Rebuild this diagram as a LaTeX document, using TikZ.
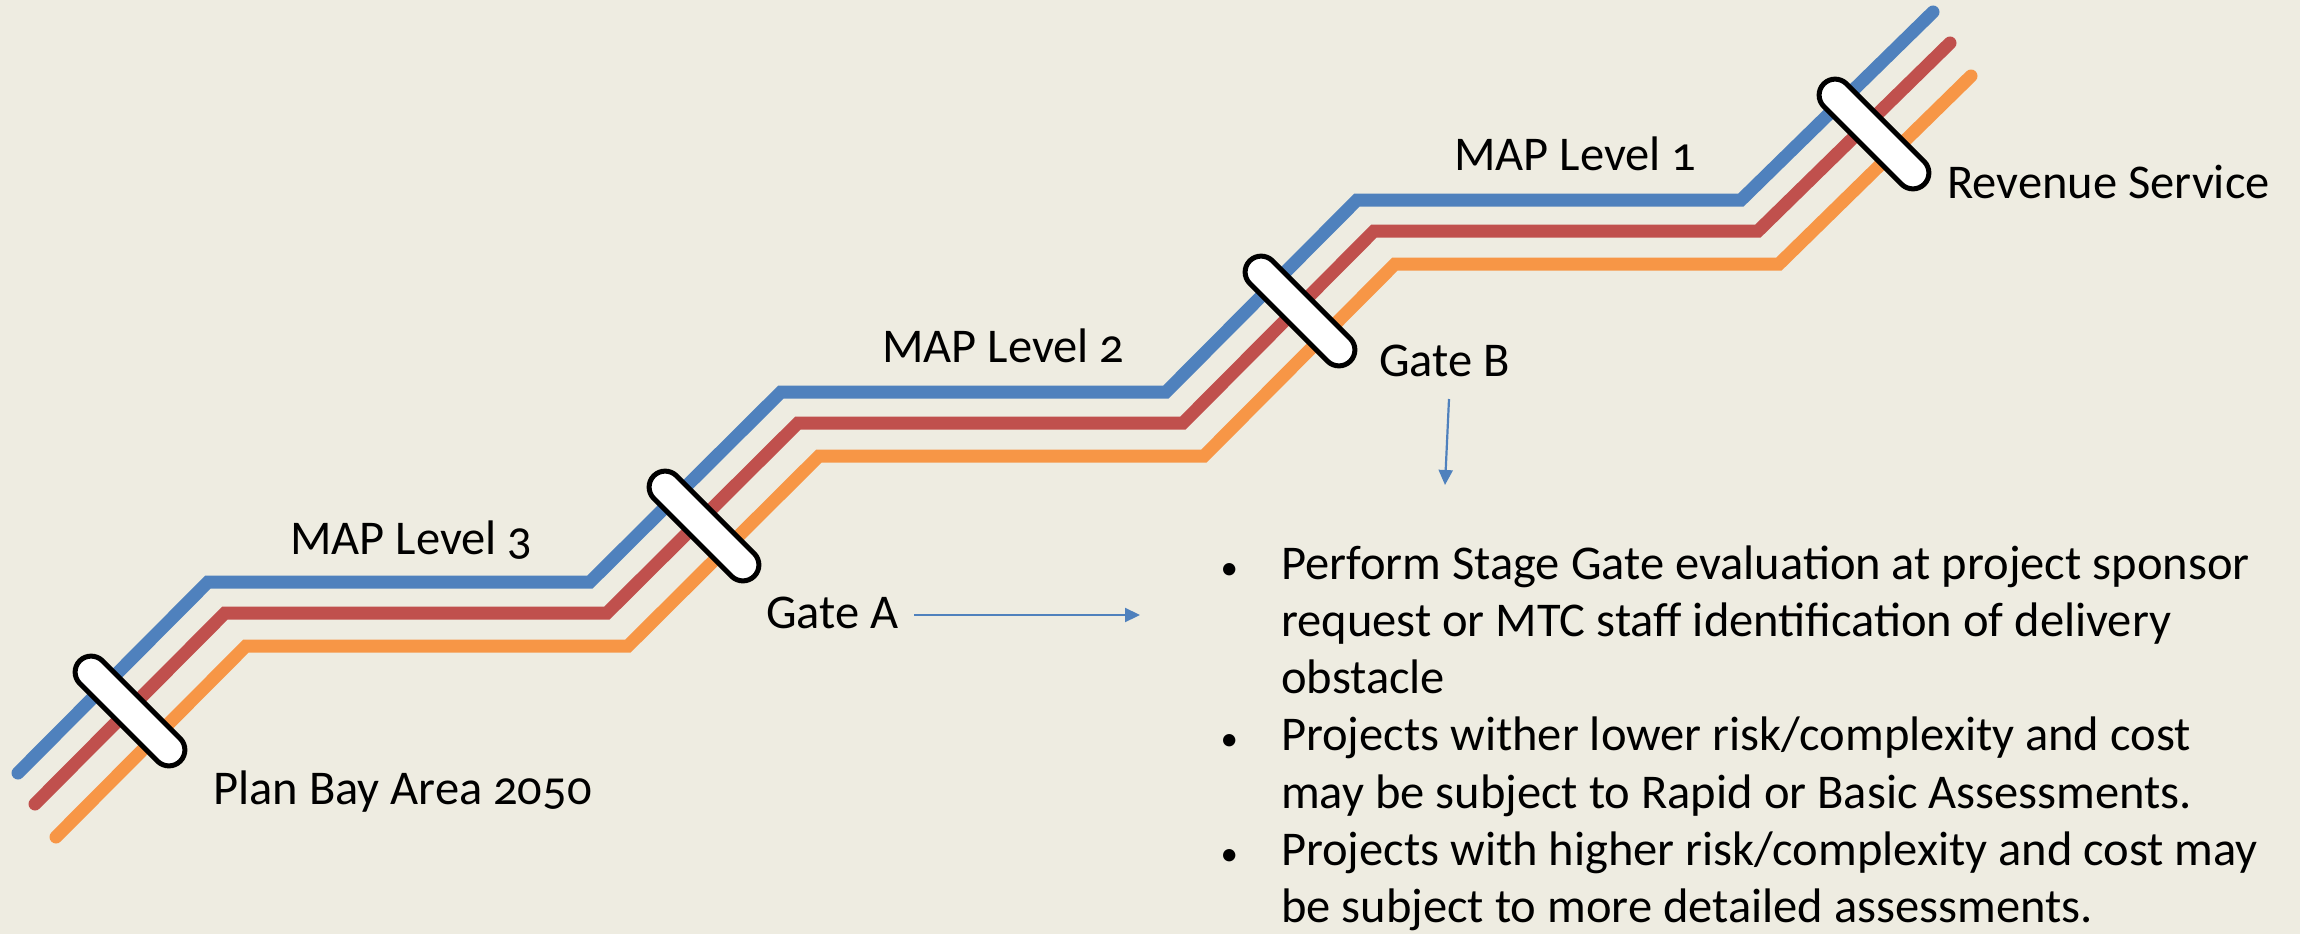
\documentclass[tikz,border=0pt]{standalone}
\usepackage{fontspec}
\setmainfont{Carlito}[Numbers=OldStyle]
\usetikzlibrary{arrows.meta}
\definecolor{bgtan}{HTML}{EEECE1}
\definecolor{railblue}{HTML}{4F81BD}
\definecolor{railred}{HTML}{C0504D}
\definecolor{railorange}{HTML}{F79646}
\newcommand{\bulletcell}{\makebox[59pt][l]{\hspace*{7pt}\makebox[0pt]{\scalebox{0.72}{\textbullet}}}}

\begin{document}
\begin{tikzpicture}[x=1pt,y=-1pt,
  rail/.style={line width=13pt, line cap=round, line join=miter},
  gate/.style={draw=black, fill=white, line width=5pt, rounded corners=16pt,
    minimum width=142pt, minimum height=32pt, inner sep=0pt, rotate=-45},
  lbl/.style={font=\fontsize{48.5}{57.3}\selectfont, inner sep=0pt, anchor=base west},
  pointer/.style={draw=railblue, line width=2.2pt, -{Triangle[length=15pt,width=14pt]}}
]
% canvas
\fill[bgtan] (0,0) rectangle (2300,934);
\useasboundingbox (0,0) rectangle (2300,934);

% track of the blue line; the other two run parallel to it
\coordinate (B0) at (18,773);
\coordinate (B1) at (208,582);
\coordinate (B2) at (590,582);
\coordinate (B3) at (781,392);
\coordinate (B4) at (1166,392);
\coordinate (B5) at (1357,200);
\coordinate (B6) at (1741,200);
\coordinate (B7) at (1933,12);

\foreach \col/\dx/\dy in {railblue/0/0, railred/17/31, railorange/38/64}{
  \draw[rail, draw=\col]
    ([shift={(\dx,\dy)}]B0) -- ([shift={(\dx,\dy)}]B1) -- ([shift={(\dx,\dy)}]B2) --
    ([shift={(\dx,\dy)}]B3) -- ([shift={(\dx,\dy)}]B4) -- ([shift={(\dx,\dy)}]B5) --
    ([shift={(\dx,\dy)}]B6) -- ([shift={(\dx,\dy)}]B7);
}

% gates across the lines
\node[gate] (g0) at (130,711) {};
\node[gate] (gA) at (704,526) {};
\node[gate] (gB) at (1300,311) {};
\node[gate] (gR) at (1874,134) {};

% labels
\node[lbl] (plan) at (213,804) {Plan Bay Area 2050};
\node[lbl] (map3) at (290,554) {MAP Level 3};
\node[lbl] (map2) at (882,362) {MAP Level 2};
\node[lbl] (map1) at (1454,170) {MAP Level 1};
\node[lbl] (rev)  at (1947,198) {Revenue Service};
\node[lbl] (gateA) at (766,628) {Gate A};
\node[lbl] (gateB) at (1379,376) {Gate B};

% pointers to the notes
\coordinate (aA0) at (914,615);
\coordinate (aA1) at (1140,615);
\coordinate (aB0) at (1449,399);
\coordinate (aB1) at (1445,485);
\draw[pointer] (aA0) -- (aA1);
\draw[pointer] (aB0) -- (aB1);

% notes
\node[lbl] (notes) at (1222,579) {\begin{tabular}[t]{@{}l@{}l@{}}
\bulletcell & Perform Stage Gate evaluation at project sponsor\\
 & request or MTC staff identification of delivery\\
 & obstacle\\
\bulletcell & Projects wither lower risk/complexity and cost\\
 & may be subject to Rapid or Basic Assessments.\\
\bulletcell & Projects with higher risk/complexity and cost may\\
 & be subject to more detailed assessments.
\end{tabular}};
\end{tikzpicture}
\end{document}
